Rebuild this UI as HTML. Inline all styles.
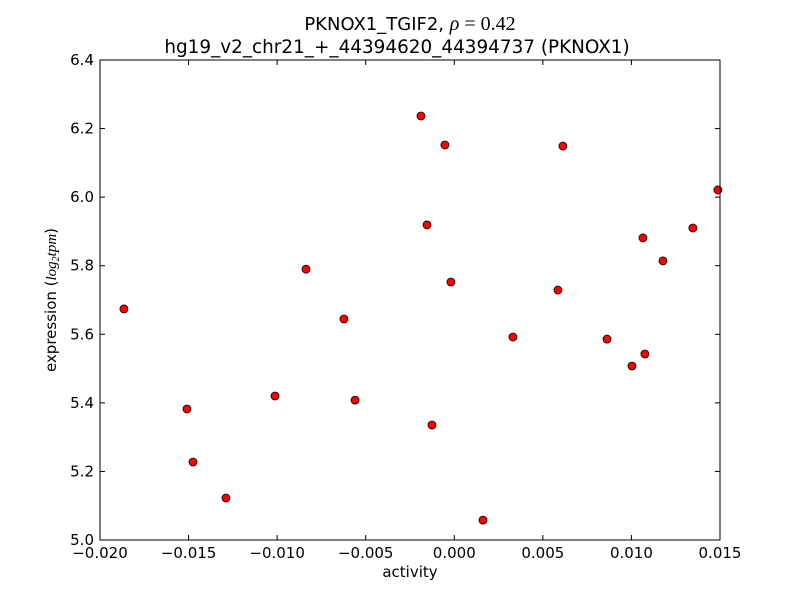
<!DOCTYPE html>
<html><head><meta charset="utf-8"><style>
body{margin:0;background:#fff;}
svg text{font-family:"DejaVu Sans","Liberation Sans",sans-serif;fill:#000;}
</style></head><body>
<svg id="chart" width="800" height="600" xmlns="http://www.w3.org/2000/svg">
<rect width="800" height="600" fill="#fff"/>
<text x="410" y="30" font-size="18" text-anchor="middle">PKNOX1_TGIF2, <tspan font-style="italic" font-family="Liberation Serif" font-size="20">ρ</tspan><tspan font-family="Liberation Serif" font-size="20"> = 0.42</tspan></text>
<text x="397" y="53" font-size="18.4" text-anchor="middle">hg19_v2_chr21_+_44394620_44394737 (PKNOX1)</text>
<g id="axes"></g>
<g id="points"></g>
<rect x="100" y="60" width="620" height="480" fill="none" stroke="#000" stroke-width="1"/>
<text x="410" y="577" font-size="15" text-anchor="middle">activity</text>
<text transform="translate(56,300) rotate(-90)" font-size="15" text-anchor="middle">expression (<tspan font-style="italic" font-family="Liberation Serif">log<tspan font-size="10" dy="3">2</tspan><tspan dy="-3">tpm</tspan></tspan>)</text>
</svg>
<script>
const xs=[-0.01865,-0.01509,-0.01475,-0.01289,-0.01012,-0.00837,-0.00623,-0.0056,-0.00188,-0.00154,-0.00126,-0.00053,-0.00019,0.00162,0.00331,0.00585,0.00613,0.00862,0.01003,0.01065,0.01076,0.01178,0.01347,0.01488];
const ys=[5.674,5.382,5.2275,5.1225,5.42,5.79,5.6446,5.408,6.2367,5.919,5.3354,6.152,5.7525,5.058,5.592,5.729,6.149,5.586,5.5075,5.881,5.5425,5.814,5.91,6.021];
const xTicks=[-0.02,-0.015,-0.01,-0.005,0,0.005,0.01,0.015];
const xTickLabels=["\u22120.020","\u22120.015","\u22120.010","\u22120.005","0.000","0.005","0.010","0.015"];
const yTicks=[5.0,5.2,5.4,5.6,5.8,6.0,6.2,6.4];
const yTickLabels=["5.0","5.2","5.4","5.6","5.8","6.0","6.2","6.4"];
const X=v=>100+(v+0.02)/0.035*620;
const Y=v=>540-(v-5.0)/1.4*480;
const NS="http://www.w3.org/2000/svg";
const ax=document.getElementById('axes'),pg=document.getElementById('points');
function mk(t,a,p){const e=document.createElementNS(NS,t);for(const k in a)e.setAttribute(k,a[k]);p.appendChild(e);return e;}
xTicks.forEach((t,i)=>{const x=X(t);
const a=mk('line',{x1:x,x2:x,y1:540,y2:535,stroke:'#000'},ax);


const b=mk('line',{x1:x,x2:x,y1:60,y2:65,stroke:'#000'},ax);


const l=mk('text',{x:x,y:558,'font-size':15,'text-anchor':'middle'},ax);l.textContent=xTickLabels[i];

});
yTicks.forEach((t,i)=>{const y=Y(t);
const a=mk('line',{x1:100,x2:105,y1:y,y2:y,stroke:'#000'},ax);


const b=mk('line',{x1:715,x2:720,y1:y,y2:y,stroke:'#000'},ax);


const l=mk('text',{x:94,y:y+5,'font-size':15,'text-anchor':'end'},ax);l.textContent=yTickLabels[i];

});
xs.forEach((v,i)=>{const c=mk('circle',{cx:X(v),cy:Y(ys[i]),r:4,fill:'#ff0000',stroke:'#000','stroke-width':0.8},pg);

});
</script>
</body></html>
